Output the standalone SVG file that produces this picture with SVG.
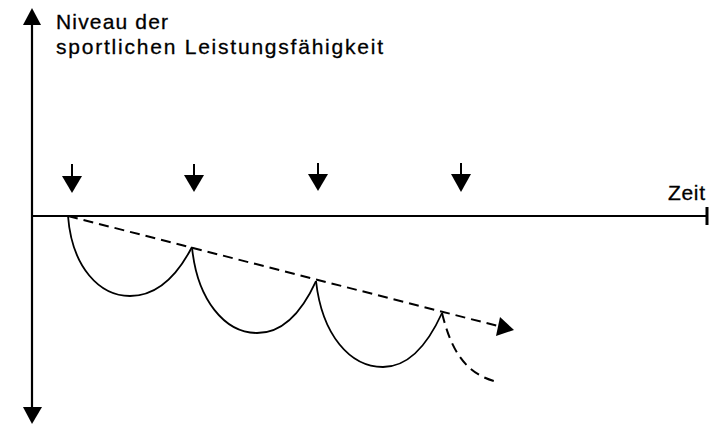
<svg xmlns="http://www.w3.org/2000/svg" width="709" height="424" viewBox="0 0 709 424">
<style>
.ax{stroke:#000;stroke-width:2.2;fill:none}
.cv{stroke:#000;stroke-width:1.8;fill:none}
.sh{stroke:#000;stroke-width:2;fill:none}
.ds{stroke:#000;stroke-width:2;fill:none;stroke-dasharray:10 6}
.hd{fill:#000;stroke:none}
.t{font-family:"Liberation Sans",Arial,sans-serif;font-size:21px;fill:#000;stroke:#000;stroke-width:0.3}
</style>
<rect width="709" height="424" fill="#fff"/>
<g id="axes">
<line class="ax" x1="32" y1="22" x2="32" y2="410"/>
<polygon class="hd" points="32,8 23,25 41,25"/>
<polygon class="hd" points="32,424 23,407 42,407"/>
<line class="ax" x1="32" y1="216" x2="707" y2="216"/>
<line x1="707" y1="207" x2="707" y2="225" stroke="#000" stroke-width="3"/>
</g>
<g id="labels">
<text class="t" x="56" y="29" textLength="112" lengthAdjust="spacing">Niveau der</text>
<text class="t" x="56" y="54" textLength="327" lengthAdjust="spacing">sportlichen Leistungsfähigkeit</text>
<text class="t" x="668" y="200" textLength="37" lengthAdjust="spacing">Zeit</text>
</g>
<g id="markers">
<g id="m1"><line class="sh" x1="72" y1="164" x2="72" y2="180"/><polygon class="hd" points="62,176 82,176 72,193"/></g>
<g id="m2"><line class="sh" x1="194" y1="164" x2="194" y2="180"/><polygon class="hd" points="184,175 204,175 194,192"/></g>
<g id="m3"><line class="sh" x1="318" y1="163" x2="318" y2="179"/><polygon class="hd" points="308,174 328,174 318,191"/></g>
<g id="m4"><line class="sh" x1="461" y1="163" x2="461" y2="179"/><polygon class="hd" points="451,174 471,174 461,192"/></g>
</g>
<g id="connectors">
<path class="cv" d="M68,216 C72,268 100,296 130,296 C158,296 178,274 192,247"/>
<path class="cv" d="M192,247 C197,300 225,333 257,333 C287,333 305,305 316,281"/>
<path class="cv" d="M316,281 C322,335 350,367 383,367 C413,367 432,335 442,313"/>
<path class="ds" d="M442,313 C450,345 462,372 494,381"/>
<line class="ds" x1="68" y1="216" x2="498" y2="326"/>
<polygon class="hd" points="514,330 496,336 500,317"/>
</g>
</svg>
